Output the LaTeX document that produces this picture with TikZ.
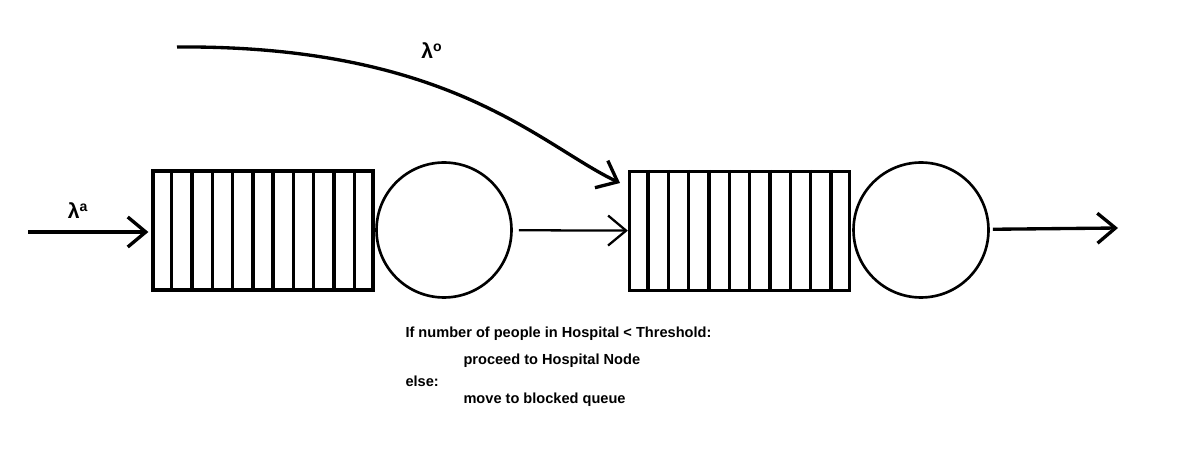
\documentclass[tikz,border=0pt]{standalone}
\usepackage{fontspec}
\setmainfont{Liberation Sans}
\usetikzlibrary{calc, arrows.meta}

\begin{document}
\begin{tikzpicture}[>={Straight Barb[length=3.6mm, width=6mm]}, x=0.02cm, y=-0.02cm, semithick]
                        \tikzset{queuebox/.style={draw, line width=1.9pt, minimum width=4.4cm, minimum height=2.38cm, inner sep=0pt}};
                        \tikzset{server/.style={draw, circle, line width=1.5pt, minimum size=2.7cm, inner sep=0pt}};
                        \tikzset{divider/.style={line width=1.9pt}};
                        \tikzset{flow/.style={->, line width=1.9pt}};
                        \tikzset{rate/.style={font=\fontsize{12}{14}\selectfont\bfseries}};
                        \tikzset{rule/.style={anchor=west, inner sep=0pt, font=\fontsize{8.3}{10}\selectfont\bfseries}};
                        \useasboundingbox (0, 0) rectangle (1200, 455);
                        \node[queuebox] (q1) at (263, 230.5) {};
                        \node[server] (s1) at (444, 230) {};
                        \node[queuebox] (q2) at (739.5, 231) {};
                        \node[server] (s2) at (921, 230) {};
                        \foreach \q in {q1, q2}
                            \foreach \k in {1, ..., 10}
                                \draw[divider] ($(\q.north west)!\k/11!(\q.north east)$) -- ($(\q.south west)!\k/11!(\q.south east)$);
                        \coordinate (arrive) at (28, 232);
                        \coordinate (exit) at (1118, 228);
                        \coordinate (bypass) at (177, 47);
                        \coordinate (merge) at (620, 183);
                        \draw[flow, shorten >=0.06cm] (arrive) -- (arrive -| q1.west);
                        \draw[flow, line width=1.3pt, shorten <=0.12cm] (s1) -- (q2);
                        \draw[flow, shorten <=0.06cm] (s2) -- (exit);
                        \draw[flow] (bypass) .. controls (450, 45) and (540, 145) .. (merge);
                        \node[rate] (lama) at (78, 211) {λ\textsuperscript{a}};
                        \node[rate] (lamo) at (432, 51) {λ\textsuperscript{o}};
                        \node[rule] (cond) at (405, 334) {If number of people in Hospital < Threshold:};
                        \node[rule] (thenline) at (463, 361) {proceed to Hospital Node};
                        \node[rule] (elseline) at (405, 381) {else:};
                        \node[rule] (blockline) at (463, 400) {move to blocked queue};
                    \end{tikzpicture}
\end{document}
